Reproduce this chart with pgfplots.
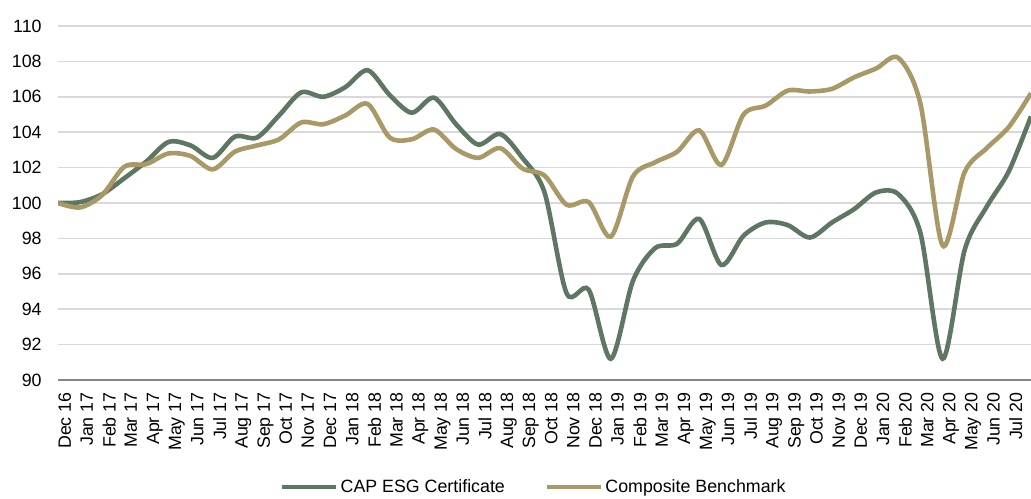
\documentclass[border=0pt]{standalone}
\usepackage{fontspec}
\setmainfont{Liberation Sans}
\usepackage{pgfplots}
\usepackage{pgfplotstable}
\pgfplotsset{compat=1.18}
\definecolor{esggreen}{RGB}{94,119,98}
\definecolor{benchtan}{RGB}{169,153,103}
\definecolor{gridgray}{RGB}{217,217,217}
\definecolor{axisgray}{RGB}{134,134,134}
\pgfplotstableread{
i  G      T
0  100.0  100.0
1  100.05 99.75
2  100.5  100.45
3  101.4  102.05
4  102.35 102.2
5  103.45 102.8
6  103.25 102.65
7  102.55 101.9
8  103.75 102.9
9  103.7  103.25
10 104.95 103.6
11 106.25 104.55
12 106.0  104.45
13 106.55 104.95
14 107.5  105.6
15 106.1  103.7
16 105.1  103.6
17 105.95 104.15
18 104.45 103.05
19 103.3  102.55
20 103.9  103.1
21 102.55 101.95
22 100.6  101.55
23 94.9   99.9
24 95.1   100.05
25 91.2   98.1
26 95.6   101.5
27 97.45  102.3
28 97.7   102.9
29 99.1   104.1
30 96.5   102.15
31 98.15  105.0
32 98.9   105.5
33 98.75  106.35
34 98.05  106.3
35 98.9   106.45
36 99.65  107.1
37 100.6  107.6
38 100.5  108.2
39 98.3   105.6
40 91.2   97.6
41 97.35  101.75
42 99.8   103.1
43 101.8  104.3
44 104.9  106.2
}\datatable
\begin{document}
\fontsize{8.9pt}{10.7pt}\selectfont
\begin{tikzpicture}
\useasboundingbox (0,0) rectangle (515.5pt,249pt);
\begin{axis}[
  at={(29pt,59pt)}, anchor=south west,
  scale only axis, width=486.5pt, height=177pt,
  xmin=0, xmax=44, ymin=90, ymax=110,
  ytick={90,92,...,110},
  xtick={0,...,43},
  xticklabels={Dec 16,Jan 17,Feb 17,Mar 17,Apr 17,May 17,Jun 17,Jul 17,Aug 17,Sep 17,Oct 17,Nov 17,Dec 17,Jan 18,Feb 18,Mar 18,Apr 18,May 18,Jun 18,Jul 18,Aug 18,Sep 18,Oct 18,Nov 18,Dec 18,Jan 19,Feb 19,Mar 19,Apr 19,May 19,Jun 19,Jul 19,Aug 19,Sep 19,Oct 19,Nov 19,Dec 19,Jan 20,Feb 20,Mar 20,Apr 20,May 20,Jun 20,Jul 20},
  axis x line*=bottom, axis y line*=left,
  x axis line style={axisgray, line width=0.9pt},
  y axis line style={draw=none},
  major tick length=0pt,
  tick style={draw=none},
  ymajorgrids, grid style={gridgray, line width=0.75pt},
  /pgf/number format/assume math mode=true,
  yticklabel style={inner sep=0pt, anchor=east},
  yticklabel shift=8pt,
  xticklabel style={rotate=90, anchor=north east, inner sep=0pt},
  xticklabel shift=6pt,
  legend style={draw=none, fill=none, at={(0.489,-0.302)}, anchor=center,
    legend columns=2, font=\fontsize{8.9pt}{10.7pt}\selectfont,
    nodes={inner sep=1pt},
    /tikz/every even column/.append style={column sep=19pt}},
  legend image code/.code={\draw[#1, line width=2.3pt] (0pt,0pt) -- (27pt,0pt);},
  clip=true,
]
\addplot[esggreen, line width=2.3pt, smooth, tension=0.5] table[x=i, y=G] {\datatable};
\addlegendentry{CAP ESG Certificate}
\addplot[benchtan, line width=2.3pt, smooth, tension=0.5] table[x=i, y=T] {\datatable};
\addlegendentry{Composite Benchmark}
\end{axis}
\end{tikzpicture}
\end{document}
